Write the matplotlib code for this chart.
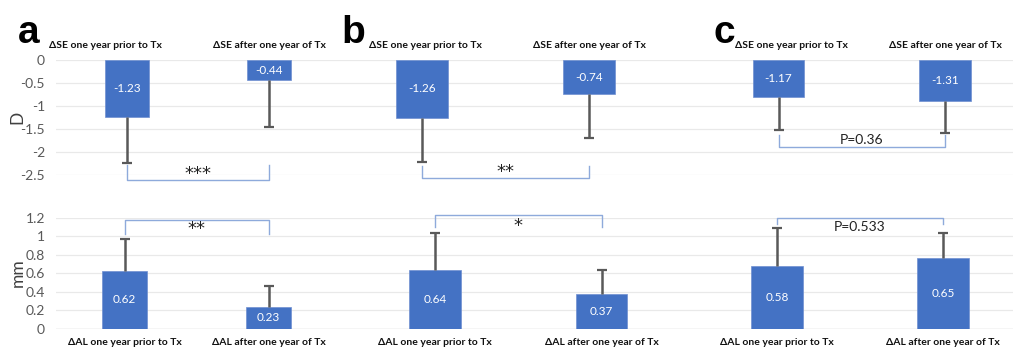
import matplotlib.pyplot as plt
import numpy as np

# values (bar heights as drawn, labels as printed)
se_categories = ["ΔSE one year prior to Tx", "ΔSE after one year of Tx"]
al_categories = ["ΔAL one year prior to Tx", "ΔAL after one year of Tx"]

se_heights = [[-1.23, -0.44], [-1.26, -0.74], [-0.81, -0.90]]
se_labels = [["-1.23", "-0.44"], ["-1.26", "-0.74"], ["-1.17", "-1.31"]]
se_errors = [[1.01, 1.02], [0.96, 0.95], [0.71, 0.69]]

al_heights = [[0.62, 0.23], [0.64, 0.37], [0.68, 0.77]]
al_labels = [["0.62", "0.23"], ["0.64", "0.37"], ["0.58", "0.65"]]
al_errors = [[0.35, 0.23], [0.40, 0.26], [0.41, 0.27]]

se_sig = ["***", "**", "P=0.36"]
al_sig = ["**", "*", "P=0.533"]
panel_letters = ["a", "b", "c"]

plt.rcParams["font.family"] = ["Lato", "DejaVu Sans"]

W, H = 1013, 347
BLUE = "#4472c4"
ERR = "#595959"
BRACKET = "#8eaadb"
GRID = "#e9e9e9"

col_edges = [56, 340, 690, 1013]
top_centers = [(127, 269), (422, 589), (778.5, 945)]
bot_centers = [(124.5, 268.5), (435, 601.5), (777, 943)]
top_rows = (60, 175)
bot_rows = (218, 328.5)
# bracket legs / bar in data units, and where the significance text sits
se_brackets = [(-2.28, -2.61, -2.48), (-2.30, -2.57, -2.44), (-1.63, -1.90, -1.74)]
al_brackets = [(1.03, 1.18, 1.08), (1.10, 1.23, 1.11), (1.13, 1.20, 1.10)]
top_label_shift = [(-0.15, 0.0), (0.02, 0.0), (0.075, 0.0)]

fig = plt.figure(figsize=(W / 100, H / 100), dpi=100)


def make_axes(i, rows, centers):
    x0, x1 = col_edges[i], col_edges[i + 1]
    ax = fig.add_axes([x0 / W, 1 - rows[1] / H, (x1 - x0) / W, (rows[1] - rows[0]) / H])
    c0, c1 = centers
    unit = c1 - c0
    ax.set_xlim((x0 - c0) / unit, (x1 - c0) / unit)
    for s in ax.spines.values():
        s.set_visible(False)
    ax.set_xticks([])
    ax.tick_params(axis="y", length=0, labelsize=10, labelcolor="#595959", pad=8)
    ax.grid(axis="y", color=GRID, lw=0.9)
    ax.set_axisbelow(True)
    if i > 0:
        ax.set_yticklabels([])
    return ax


def draw(ax, heights, labels, errors, bracket, sig):
    x = np.arange(len(heights))
    h = np.array(heights)
    sign = np.sign(h)
    ends = h + sign * np.array(errors)
    ax.bar(x, h, width=0.31, color=BLUE, edgecolor="#6f8fd0", lw=0.5, zorder=2)
    ax.vlines(x, h, ends, color=ERR, lw=1.8, zorder=3)
    ax.plot(x, ends, ls="none", marker="_", ms=7, mew=1.6, color=ERR, zorder=3)
    for xi, hi, lab in zip(x, h, labels):
        ax.text(xi, hi / 2, lab, color="white", fontsize=8.5, ha="center", va="center", zorder=4)
    leg, bar_y, txt_y = bracket
    ax.plot([0, 0, 1, 1], [leg, bar_y, bar_y, leg], color=BRACKET, lw=1, clip_on=False, zorder=3)
    if sig.startswith("P"):
        ax.text(0.5, txt_y, sig, fontsize=10, ha="center", va="center", color="#222222")
    else:
        ax.text(0.5, txt_y, sig, fontsize=13, ha="center", va="center", color="#222222",
                family="DejaVu Sans")


for i in range(3):
    ax = make_axes(i, top_rows, top_centers[i])
    ax.set_ylim(-2.5, 0)
    ax.set_yticks([0, -0.5, -1, -1.5, -2, -2.5])
    if i == 0:
        ax.set_yticklabels(["0", "-0.5", "-1", "-1.5", "-2", "-2.5"])
    draw(ax, se_heights[i], se_labels[i], se_errors[i], se_brackets[i], se_sig[i])
    for k, cat in enumerate(se_categories):
        ax.text(k + top_label_shift[i][k], 1 + 15 / 115, cat, transform=ax.get_xaxis_transform(),
                fontsize=7.5, fontweight="bold", ha="center", va="center", color="#111111")

    ax = make_axes(i, bot_rows, bot_centers[i])
    ax.set_ylim(0, 1.2)
    ax.set_yticks([0, 0.2, 0.4, 0.6, 0.8, 1.0, 1.2])
    if i == 0:
        ax.set_yticklabels(["0", "0.2", "0.4", "0.6", "0.8", "1", "1.2"])
    ax.axhline(0, color="#d9d9d9", lw=1, zorder=1)
    draw(ax, al_heights[i], al_labels[i], al_errors[i], al_brackets[i], al_sig[i])
    for k, cat in enumerate(al_categories):
        ax.text(k, -14 / 110.5, cat, transform=ax.get_xaxis_transform(),
                fontsize=7.5, fontweight="bold", ha="center", va="center", color="#111111")

fig.text(17.5 / W, 1 - 117 / H, "D", rotation=90, fontsize=12.5, color="#404040",
         ha="center", va="center")
fig.text(17.5 / W, 1 - 273 / H, "mm", rotation=90, fontsize=12.5, color="#404040",
         ha="center", va="center")

for letter, lx in zip(panel_letters, [29, 353, 724]):
    fig.text(lx / W, 1 - 43 / H, letter, fontsize=28, fontweight="bold",
             family="Liberation Sans", ha="center", va="baseline")

plt.savefig("out.png", dpi=100)
